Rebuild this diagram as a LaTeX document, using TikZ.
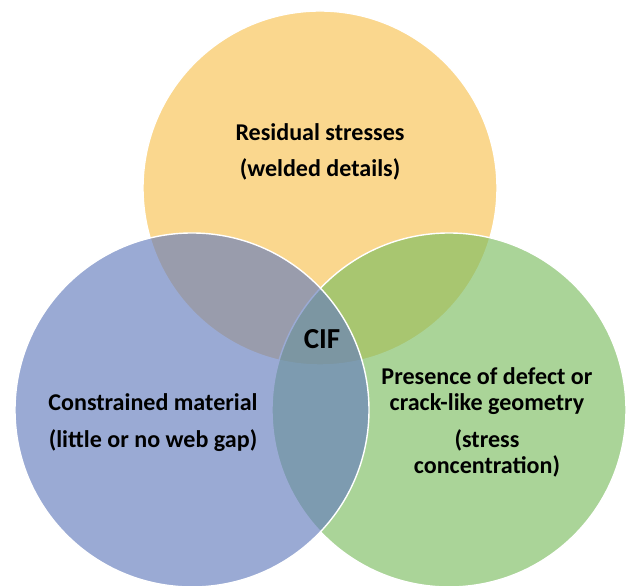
\documentclass[tikz,border=0pt]{standalone}
\usepackage{fontspec}
\setmainfont{Carlito}
\usepackage{xcolor}
\usepackage{tikz}
\usetikzlibrary{positioning}

\definecolor{setyellow}{RGB}{250,215,142}
\definecolor{setblue}{RGB}{101,125,189}
\definecolor{setgreen}{RGB}{125,189,97}

\begin{document}
\begin{tikzpicture}[
    ring/.style={circle, minimum size=7.08cm, inner sep=0pt, draw=white, line width=0.8pt},
    label/.style={align=center, font=\bfseries\fontsize{13.7}{14.8}\selectfont},
]
\clip (0,0) rectangle (12.52,11.72);
\fill[white] (0,0) rectangle (12.52,11.72);

% Sets (drawn back to front)
\node[ring, fill=setyellow] (stress) at (6.40, 7.96) {};
\node[ring, fill=setgreen, fill opacity=0.65] (defect) at (8.98, 3.52) {};
\node[ring, fill=setblue, fill opacity=0.65] (constr) at (3.84, 3.52) {};

% Labels
\node[label] (stresstxt) at (6.40, 8.68) {Residual stresses\\[6pt](welded details)};
\node[label] (constrtxt) at (3.06, 3.27) {Constrained material\\[6pt](little or no web gap)};
\node[label] (defecttxt) at (9.74, 3.27) {Presence of defect or\\crack-like geometry\\[6pt](stress\\concentration)};
\node[label, font=\bfseries\fontsize{16.5}{18}\selectfont] (cif) at (6.44, 4.93) {CIF};

\end{tikzpicture}
\end{document}
